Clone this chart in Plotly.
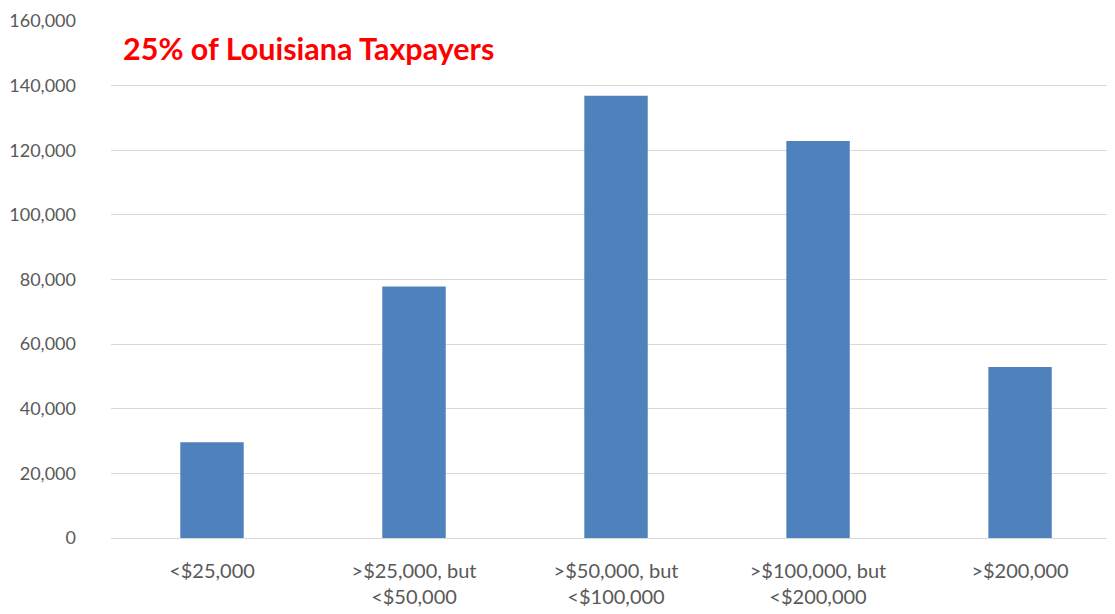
import plotly.graph_objects as go

categories = ["<$25,000", ">$25,000, but<br><$50,000", ">$50,000, but<br><$100,000",
              ">$100,000, but<br><$200,000", ">$200,000"]
taxpayers = [29600, 77800, 136900, 122900, 52900]
y_ticks = [0, 20000, 40000, 60000, 80000, 100000, 120000, 140000, 160000]
title_text = "25% of Louisiana Taxpayers"

fig = go.Figure(go.Bar(x=list(range(len(categories))), y=taxpayers,
                       marker=dict(color="#4F81BD", line=dict(width=0)),
                       width=0.314))

fig.update_layout(
    width=1115, height=614,
    margin=dict(l=103, r=8, t=13, b=84),
    paper_bgcolor="white", plot_bgcolor="white",
    font=dict(family="Lato, Calibri, sans-serif", color="#595959", size=18),
    showlegend=False,
    xaxis=dict(range=[-0.5, 4.47], tickmode="array", automargin=False,
               tickvals=list(range(len(categories))), ticktext=categories,
               showgrid=False, zeroline=False, showline=False,
               ticks="", ticklabelstandoff=19, ticklabeloverflow="allow",
               tickfont=dict(size=20, color="#595959")),
    yaxis=dict(range=[0, 160000], tickmode="array", tickvals=y_ticks,
               ticktext=[f"{v:,}" for v in y_ticks], automargin=False,
               showgrid=True, gridcolor="#d9d9d9", gridwidth=1.3,
               zeroline=True, zerolinecolor="#d9d9d9", zerolinewidth=1.3,
               showline=False, ticks="", ticklabelstandoff=34,
               ticklabeloverflow="allow",
               tickfont=dict(size=18, color="#595959")),
    annotations=[dict(text=title_text, xref="paper", yref="paper",
                      x=0.010, y=0.948, xanchor="left", yanchor="middle",
                      showarrow=False,
                      font=dict(family="Lato, Calibri, sans-serif", size=30.5,
                                color="#FF0000", weight="bold"))],
)

fig.write_html("out.html")
